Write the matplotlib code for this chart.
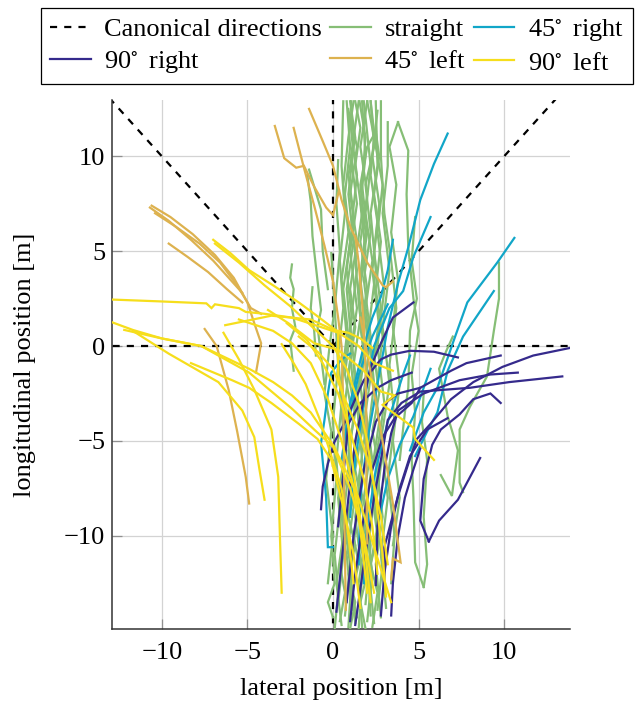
import numpy as np
import matplotlib
matplotlib.use("Agg")
import matplotlib.pyplot as plt

plt.rcParams['font.family'] = ['Liberation Serif', 'DejaVu Serif']
plt.rcParams['mathtext.fontset'] = 'stix'

# canonical directions (degrees), drawn as rays from the origin
canon_angles = [0, 45, 90, 135, 180, 270]
canon_length = 30

# trajectories, each a list of (lateral, longitudinal) points in metres
straight = [
    [(0.1, -14.9), (0.3, -13), (0.1, -11), (0.4, -8.5), (0.2, -6), (0.5, -3), (0.3, -0.5), (0.6, 2), (0.4, 4.5), (0.7, 7), (0.5, 9.5), (0.6, 12.9)],
    [(0.5, -14.7), (0.2, -12.5), (0.6, -10), (0.4, -7.5), (0.8, -5), (0.5, -2), (0.9, 0.5), (0.6, 3), (1.0, 5.5), (0.7, 8), (1.0, 10.5), (0.8, 12.9)],
    [(0.9, -14.8), (1.1, -12), (0.8, -9.5), (1.2, -7), (0.9, -4), (1.3, -1.5), (1.0, 1), (1.4, 4), (1.1, 6.5), (1.4, 9), (1.1, 11), (1.05, 12.9)],
    [(1.3, -14.6), (1.0, -12), (1.4, -9), (1.1, -6.5), (1.5, -4), (1.2, -1), (1.6, 1.5), (1.3, 4.5), (1.7, 7), (1.3, 9.5), (1.6, 11.5), (1.3, 12.9)],
    [(1.7, -14.8), (1.5, -12.5), (1.9, -10), (1.5, -7), (1.9, -4.5), (1.6, -2), (2.0, 0.5), (1.6, 3.5), (2.0, 6), (1.7, 8.5), (1.9, 11), (1.55, 12.9)],
    [(2.0, -14.5), (2.3, -12), (1.9, -9), (2.3, -6), (1.9, -3.5), (2.3, -1), (1.9, 2), (2.3, 4.5), (1.9, 7), (2.2, 9.5), (1.8, 12.9)],
    [(2.4, -14.6), (2.1, -12), (2.6, -9.5), (2.2, -7), (2.7, -4), (2.3, -1.5), (2.7, 1), (2.3, 4), (2.6, 6.5), (2.2, 9), (2.4, 11), (2.0, 12.9)],
    [(2.8, -14.3), (2.5, -11.5), (2.9, -9), (2.5, -6), (3.0, -3), (2.6, 0), (3.0, 3), (2.6, 6), (2.9, 8.5), (2.5, 10.5), (2.2, 12.9)],
    [(0.0, -14.3), (-0.3, -13.5), (0.1, -12.5), (-0.1, -10), (0.2, -7), (0.0, -4), (0.3, -1), (0.1, 2), (0.4, 5), (0.2, 7.5), (0.3, 9.8)],
    [(0.7, -14.2), (1.0, -11.5), (0.6, -9), (1.0, -6), (0.7, -3), (1.1, 0), (0.8, 3), (1.2, 5.5), (0.9, 8), (1.2, 10.5), (0.9, 12.5)],
    [(1.5, -14.9), (1.7, -12), (1.3, -9), (1.7, -6), (1.4, -3), (1.8, 0), (1.5, 3), (1.9, 6), (1.6, 8.5), (2.0, 10.5), (2.5, 11.3)],
    [(2.2, -14.2), (2.0, -11), (2.4, -8), (2.0, -5), (2.4, -2), (2.1, 1), (2.5, 4), (2.2, 7), (2.6, 9.5), (2.5, 12.9)],
    [(3.1, -13.8), (2.8, -11), (3.2, -8), (2.8, -5), (3.3, -2), (2.9, 1), (3.3, 4), (2.9, 7), (3.2, 9.5), (3.2, 11.8)],
    [(3.4, -12.5), (3.6, -10), (3.2, -7), (3.6, -4), (3.3, -1), (3.7, 2), (3.4, 4.5), (3.0, 7), (2.8, 10), (2.8, 12.9)],
    [(0.3, -13.6), (0.6, -11), (0.3, -8), (0.7, -5.5), (0.4, -2.5), (0.8, 0.5), (0.5, 3.5), (0.9, 6), (0.6, 8.5), (0.9, 11), (1.2, 12.9)],
    [(-0.3, -12.5), (0.0, -10), (-0.4, -7), (-0.1, -4.5), (-0.5, -2.5), (-0.2, 0), (0.1, 2), (-0.1, 4.9)],
    [(1.1, -13.9), (0.8, -11), (1.2, -8.5), (0.9, -6), (1.3, -3), (1.0, -0.5), (1.4, 2), (1.0, 5), (1.4, 7.5), (1.05, 10), (1.5, 12.9)],
    [(1.9, -13.6), (2.2, -10.5), (1.8, -8), (2.2, -5.5), (1.8, -2.5), (2.2, 0.5), (1.8, 3.5), (2.2, 6), (1.9, 8.5), (2.4, 10.5), (2.2, 12.9)],
    [(2.6, -13.9), (2.9, -11.5), (2.5, -8.5), (2.9, -5.5), (2.5, -2.5), (2.9, 0.5), (2.5, 3), (2.8, 5.5), (2.4, 8), (2.7, 10), (2.5, 11.3)],
    [(3.5, -10.5), (3.9, -8), (3.5, -5), (3.9, -2), (3.5, 1), (3.8, 3.5), (3.4, 6), (3.7, 8.5), (3.3, 10.5), (3.8, 11.8)],
    [(0.4, -14.5), (0.7, -13), (0.4, -11.5), (0.8, -10), (0.5, -8), (0.9, -6.5), (0.6, -4.5), (1.0, -3), (0.7, -1.5), (1.1, 1.5), (0.8, 4), (1.2, 7), (0.9, 9), (1.3, 11), (1.0, 12.9)],
    [(1.4, -14.3), (1.1, -13), (1.5, -11.5), (1.2, -10), (1.6, -8), (1.3, -6.5), (1.7, -4.5), (1.4, -2.5), (1.8, -0.5), (1.5, 2.5), (1.9, 5), (1.6, 7.5), (1.9, 10), (1.7, 12.9)],
    [(2.3, -14.8), (2.6, -13), (2.2, -11.5), (2.6, -10), (2.3, -8), (2.7, -6.5), (2.3, -4.5), (2.7, -2.5), (2.4, -0.5), (2.8, 2), (2.4, 5), (2.7, 7.5), (2.3, 10), (2.6, 12.4)],
    [(1.0, -14.9), (1.3, -13.5), (0.9, -12), (1.3, -10.5), (0.9, -9), (1.3, -7.5), (0.9, -5.5), (1.3, -3.5), (0.9, -1.5), (1.3, 1), (1.0, 3), (1.4, 5.5), (1.0, 8), (1.4, 10.5), (1.0, 12.2)],
    [(1.9, -14.9), (1.6, -13.5), (2.0, -12), (1.6, -10.5), (2.0, -9), (1.6, -7.5), (2.0, -5.5), (1.6, -3.5), (2.0, -1.5), (1.6, 1), (2.0, 3), (1.6, 5.5), (2.0, 8), (1.6, 10.5), (2.0, 12.9)],
    [(5.3, -12.7), (4.8, -11.4), (4.7, -8), (4.6, -6), (4.8, -3.5), (4.6, -1.5), (5.0, 0.8), (4.7, 2.5), (4.4, 5.2), (4.3, 8), (4.4, 10.3), (3.8, 11.8)],
    [(5.3, -12.7), (5.5, -11.5), (5.3, -9), (5.5, -6), (5.2, -4), (5.3, -2.5)],
    [(7.6, -7.7), (7.4, -7.2), (7.4, -4.4), (8.0, -3.2), (9.0, -1.6), (9.4, 0.8), (9.7, 2.5), (9.7, 4.4)],
    [(6.3, -6.8), (6.95, -7.9), (7.3, -5.5), (6.7, -3.7), (6.2, -1.2), (6.6, -0.3), (7.0, 0.5)],
    [(-2.3, -1.3), (-2.5, 0.3), (-2.2, 1.0), (-2.4, 2.0), (-2.3, 3.0), (-2.5, 3.6), (-2.4, 4.3)],
    [(-0.5, -2.0), (-0.9, 1.0), (-0.7, 1.9), (-0.9, 3.4), (-1.2, 5.8), (-1.3, 7.6), (-1.5, 9.0)],
    [(-0.3, 3.0), (-0.6, 5.0), (-0.7, 7.2), (-1.4, 9.3)],
    [(-1.0, -0.5), (-1.1, 0.8), (-1.3, 2.0), (-1.2, 3.1)],
    [(3.9, -6), (4.2, -3.5), (4.4, -2.2), (4.5, 0.8), (4.9, 2.5), (4.6, 4.5), (4.8, 6.8)],
]

right45 = [
    [(1.5, -11.5), (1.6, -8), (2.0, -5), (2.6, -2), (3.2, 1), (3.8, 3.3), (4.4, 5.2), (5.1, 7.7), (5.9, 9.6), (6.7, 11.2)],
    [(1.0, -9), (1.3, -6), (1.8, -3), (2.4, 0), (3.3, 2.0), (4.1, 2.9), (4.7, 4.7), (5.7, 6.8)],
    [(4.5, -5.5), (5.3, -3.5), (6.1, -2.2), (7.0, 0.15), (7.85, 2.3), (9.6, 4.4), (10.6, 5.7)],
    [(4.8, -5.8), (5.5, -4.5), (6.1, -3.5), (6.7, -1.3), (7.6, 0.5), (9.4, 2.9)],
    [(0.5, -6), (1.0, -3), (1.8, 0), (2.3, 1.5), (2.8, 2.6), (3.2, 4.0), (3.5, 5.6)],
    [(0.8, -4.5), (1.5, -1.5), (2.3, 0.5), (3.2, 2.2)],
    [(2.6, -9.5), (3.2, -7), (3.9, -5.2), (4.7, -3.7), (5.7, -1.2)],
    [(0.0, -10.6), (-0.3, -10.6), (-0.4, -8), (-0.7, -5.1), (-0.5, -3.9), (-0.3, -2.5), (-0.1, -1.4), (0.5, -0.7), (1.0, -0.4)],
    [(1.8, -12.5), (2.0, -9.5), (2.5, -6.5), (3.2, -4), (4.1, -1.5), (4.5, -0.5)],
]

right90 = [
    [(3.0, -12.5), (3.0, -10.6), (3.8, -7.9), (4.4, -6.2), (4.9, -4.9), (5.7, -4.1), (6.9, -2.8), (8.2, -1.9), (9.9, -1.1), (11.7, -0.5), (13.85, -0.1)],
    [(1.3, -14.7), (1.8, -11.5), (2.4, -8), (2.9, -5.5), (3.2, -3.9), (4.0, -3.0), (5.1, -2.4), (8.0, -2.2), (10.3, -1.9), (13.4, -1.6)],
    [(2.5, -12.6), (2.6, -9.5), (3.0, -6.5), (3.4, -4.6), (3.8, -3.4), (5.3, -2.5), (7.4, -1.8), (9.2, -1.5), (10.8, -1.4)],
    [(0.8, -13.5), (1.2, -10), (1.8, -6.5), (2.5, -4), (3.2, -2.9), (3.8, -2.5), (5.1, -2.2), (6.9, -1.3), (7.8, -0.9), (9.8, -0.5)],
    [(-0.7, -8.6), (-0.6, -7.4), (-0.3, -6.2), (0.06, -5.1), (0.64, -4.1), (1.0, -3.4), (1.8, -1.8), (2.8, -0.7), (3.4, -0.45), (4.5, -0.25), (5.9, -0.3), (7.3, -0.6)],
    [(5.6, -10.3), (5.1, -9.2), (5.3, -7), (5.8, -5.2), (6.3, -4.4), (7.4, -3.6), (8.2, -2.8), (9.2, -2.5), (9.8, -3.0)],
    [(5.6, -10.3), (6.2, -9.2), (7.3, -8.1), (8.6, -5.9)],
    [(0.2, -14.0), (0.5, -11.4), (0.9, -8), (1.3, -5), (1.8, -2.8), (2.2, -1.1), (2.8, 0.15), (3.5, 1.5), (4.7, 2.3)],
    [(2.8, -14.2), (3.0, -12), (3.4, -9.5), (3.9, -7.5), (4.5, -5.8), (5.5, -4.4), (6.7, -3.8)],
    [(3.4, -14.2), (3.5, -12.5), (3.8, -10), (4.2, -8), (4.7, -6.5), (5.1, -5.4)],
    [(1.0, -14.5), (1.3, -12), (1.8, -9), (2.3, -6.5), (2.9, -4.8), (3.6, -3.8), (4.6, -3.0), (5.1, -2.2)],
    [(0.3, -9.5), (0.9, -4.1), (1.6, -3.0), (2.6, -2.2), (3.4, -1.8), (4.6, -1.4)],
]

left45 = [
    [(-10.6, 7.4), (-9.5, 6.8), (-8.2, 5.9), (-6.9, 4.8), (-5.8, 3.6), (-5.0, 2.3), (-4.6, 1.2), (-4.2, 0.15), (-4.5, -1.4)],
    [(-10.7, 7.3), (-9.6, 6.6), (-8.3, 5.6), (-7.0, 4.5), (-6.0, 3.5), (-5.3, 2.8)],
    [(-10.4, 7.0), (-9.2, 6.3), (-7.8, 5.4), (-6.6, 4.4), (-5.6, 3.2), (-4.8, 2.0), (-4.2, 1.7)],
    [(-9.6, 5.4), (-8.5, 4.7), (-7.3, 3.9), (-6.2, 3.0), (-5.3, 2.3)],
    [(-7.5, 0.9), (-6.8, 0.0), (-6.1, -2.3), (-5.6, -4.5), (-5.1, -6.9), (-4.9, -8.3)],
    [(-3.4, 11.6), (-2.85, 9.9), (-2.15, 9.4), (-1.7, 9.5), (-1.1, 8.4), (-0.4, 7.3), (0.0, 6.9), (0.35, 8.2)],
    [(-1.4, 12.5), (-0.6, 10.8), (0.0, 9.5), (0.5, 7.7), (1.05, 6.2), (2.0, 4.4), (2.9, 3.2), (3.1, 3.1), (3.5, 3.4)],
    [(-2.3, 11.5), (-1.7, 9.4), (-1.1, 7.4), (-0.5, 5.3), (0.0, 3.4), (0.3, 1.5), (0.5, 0.0), (0.6, -3), (0.65, -7), (0.7, -11), (0.75, -13.9)],
    [(1.3, 5.8), (1.5, 4.4), (1.8, 1.2), (1.9, -1.3), (1.95, -4), (1.95, -7), (2.0, -10.4)],
    [(1.6, 1.5), (2.1, -0.9), (2.8, -4.5), (3.5, -8.3), (3.95, -11.4), (3.5, -11.2), (3.4, -12.3)],
]

left90 = [
    [(2.2, -13.5), (1.9, -11), (1.5, -8.5), (1.1, -6), (0.8, -3.5), (0.3, -1.5), (0.3, 0.7), (-0.7, 1.0), (-2.4, 1.5), (-4.0, 1.7), (-5.1, 1.8), (-5.5, 2.0), (-6.9, 2.2), (-7.1, 2.0), (-7.4, 2.25), (-10.0, 2.35), (-12.9, 2.45)],
    [(3.4, -13.5), (2.4, -10.6), (1.45, -7.9), (0.06, -5.3), (-1.3, -3.5), (-2.4, -2.6), (-3.5, -1.9), (-4.9, -1.2), (-7.7, 0.0), (-10.0, 0.4), (-11.7, 0.85), (-12.9, 1.25)],
    [(-4.0, -8.1), (-4.3, -6.5), (-4.6, -4.8), (-5.3, -3.4), (-6.7, -1.9), (-9.6, -0.4), (-11.7, 0.8)],
    [(-3.0, -13.0), (-3.1, -10.1), (-3.2, -6.9), (-3.6, -4.4), (-4.6, -2.3), (-5.5, -0.7), (-6.4, 0.7)],
    [(-7.0, 5.6), (-6.0, 4.9), (-4.9, 4.0), (-3.5, 3.2), (-2.0, 2.3), (-0.8, 1.5), (0.5, 0.6), (1.5, 0.0), (2.4, -0.9), (3.5, -1.3)],
    [(-6.9, 5.4), (-5.5, 4.4), (-4.0, 3.2), (-2.5, 2.1), (-1.2, 1.0), (0.0, 0.0), (0.8, -1.2), (1.5, -3), (2.0, -5), (2.5, -8), (2.9, -11), (3.1, -13.2)],
    [(-6.3, 1.1), (-3.6, 1.6), (-1.3, 1.4), (0.06, 0.84), (0.9, 0.7), (1.6, 0.4), (2.3, -0.1)],
    [(-3.8, 1.9), (-2.6, 1.2), (-1.1, 0.15), (0.3, -0.2), (1.8, -1.3), (2.8, -2.4), (3.6, -2.6), (2.9, -3.1), (4.7, -4.3), (4.8, -4.9), (5.9, -6.0)],
    [(2.0, -13.0), (1.6, -9.7), (1.2, -7.4), (0.47, -4.9), (-0.3, -2.8), (-1.3, -0.9), (-2.4, 0.15), (-3.5, 0.8), (-5.5, 1.4)],
    [(2.4, -13.0), (1.8, -10), (1.0, -7.5), (0.0, -5.3), (-1.1, -4.4), (-2.4, -3.3), (-4.9, -1.4), (-7.7, 0.0), (-10.0, 0.4), (-12.2, 0.85)],
    [(1.6, -13.8), (1.2, -11), (0.6, -8.5), (-0.1, -6.0), (-0.9, -4.9), (-2.0, -4.1), (-3.6, -3.0), (-4.9, -2.2), (-5.9, -1.8), (-8.3, -0.9)],
    [(2.6, -12.0), (2.3, -9.5), (1.8, -7), (1.0, -4.5), (0.3, -2.5), (-0.6, -0.9), (-1.5, 0.3), (-2.7, 1.2)],
    [(3.2, -11.5), (2.8, -9), (2.2, -6.5), (1.5, -4.5), (0.7, -2.8), (0.0, -1.2), (-0.9, -0.3), (-2.0, 0.5)],
    [(1.2, -12.5), (0.9, -10), (0.5, -7.5), (-0.2, -5.5), (-0.8, -3.8), (-1.6, -2.0), (-2.3, -0.9), (-3.0, 0.1)],
]

classes = [
    ("straight", straight, "#86BE76"),
    ("45$^{\\circ}\\,$ right", right45, "#11A6C8"),
    ("90$^{\\circ}\\,$ right", right90, "#352A8C"),
    ("45$^{\\circ}\\,$ left", left45, "#DDB24F"),
    ("90$^{\\circ}\\,$ left", left90, "#F6DE1C"),
]

fig = plt.figure(figsize=(6.39, 7.03), dpi=100)
ax = fig.add_axes([0.1757, 0.1048, 0.7163, 0.753])

handles = {}
for ang in canon_angles:
    a = np.deg2rad(ang)
    h, = ax.plot([0, canon_length * np.cos(a)], [0, canon_length * np.sin(a)],
                 color="black", ls=(0, (3.2, 3.2)), lw=1.6, zorder=2)
handles["Canonical directions"] = h

for i, (name, trajs, col) in enumerate(classes):
    for tr in trajs:
        xs = [p[0] for p in tr]
        ys = [p[1] for p in tr]
        h, = ax.plot(xs, ys, color=col, lw=1.6, zorder=3 + i,
                     solid_joinstyle="miter")
    handles[name] = h

ax.set_xlim(-12.9, 13.85)
ax.set_ylim(-14.93, 12.97)
ax.set_xticks([-10, -5, 0, 5, 10])
ax.set_yticks([-10, -5, 0, 5, 10])
ax.grid(True, color="#d3d3d3", lw=0.9)
ax.set_axisbelow(True)
ax.spines["top"].set_visible(False)
ax.spines["right"].set_visible(False)
for s in ("left", "bottom"):
    ax.spines[s].set_color("#333333")
    ax.spines[s].set_linewidth(1.1)
ax.tick_params(direction="in", length=7, width=0.9, color="#909090",
               labelsize=19)
ax.tick_params(axis="x", pad=9)
ax.tick_params(axis="y", pad=5)
ax.set_xlabel("lateral position [m]", fontsize=19, labelpad=10)
ax.set_ylabel("longitudinal position [m]", fontsize=19, labelpad=20)

order = ["Canonical directions", "90$^{\\circ}\\,$ right", "straight",
         "45$^{\\circ}\\,$ left", "45$^{\\circ}\\,$ right", "90$^{\\circ}\\,$ left"]
leg = fig.legend([handles[k] for k in order], order, loc="upper center",
                 bbox_to_anchor=(337 / 639, 1 - 8 / 703), ncol=3,
                 fontsize=19, frameon=True, fancybox=False, edgecolor="black",
                 framealpha=1, handlelength=1.55, handletextpad=0.5,
                 columnspacing=0.3, labelspacing=0.3, borderpad=0.35,
                 borderaxespad=0)
leg.get_frame().set_linewidth(0.9)

fig.savefig("out.png", dpi=100)
